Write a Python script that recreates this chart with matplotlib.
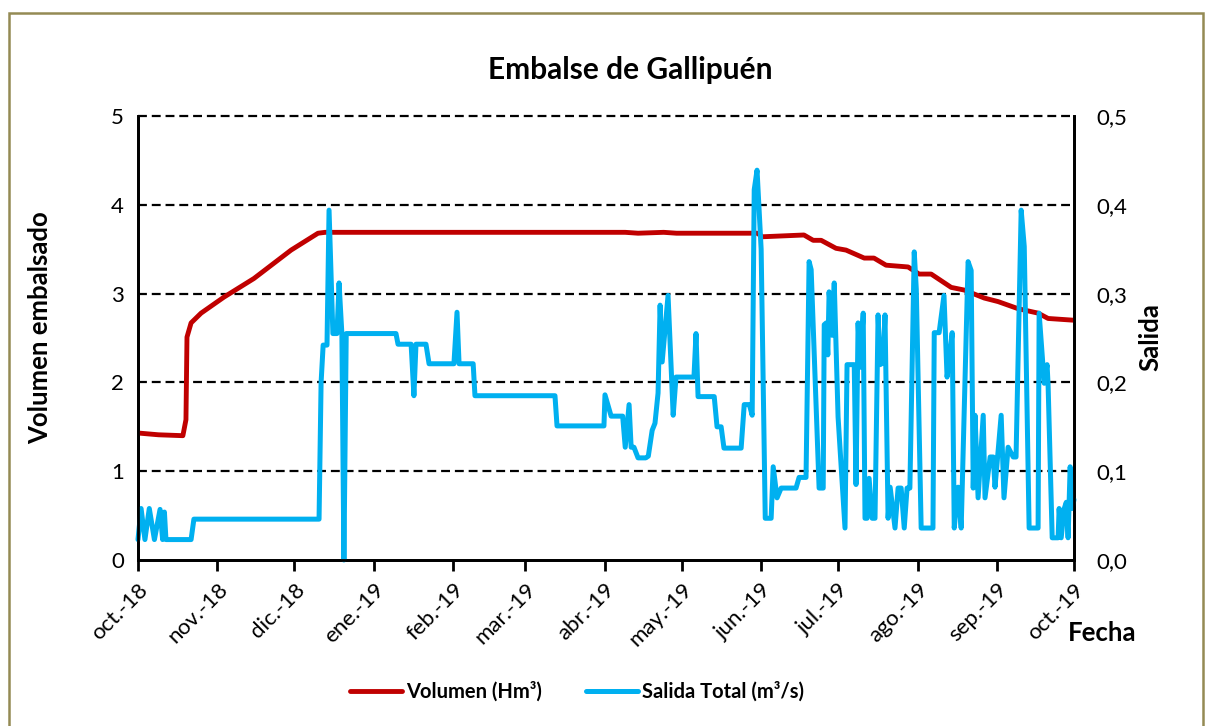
import numpy as np
import pandas as pd
import matplotlib
matplotlib.use('Agg')
import matplotlib.pyplot as plt
from matplotlib.patches import Rectangle

# dias contados desde el 1-oct-2018
vol_dia = [0, 8, 17.5, 18.7, 19.1, 20.7, 24.6, 33.5, 45.2, 59.7, 70.2, 73, 130, 190, 195, 205,
           210, 241.5, 243.5, 259.7, 263.3, 266.4, 272.2, 276.1, 283.2, 287, 291.7, 300.3,
           304.6, 309.3, 317.1, 322.2, 330, 335.4, 343.2, 351, 354.9, 365]
vol_val = [1.43, 1.41, 1.40, 1.58, 2.51, 2.67, 2.78, 2.96, 3.17, 3.49, 3.68, 3.69, 3.69, 3.69, 3.68, 3.69,
           3.68, 3.68, 3.64, 3.66, 3.60, 3.60, 3.51, 3.49, 3.40, 3.40, 3.32, 3.30,
           3.22, 3.22, 3.07, 3.04, 2.95, 2.91, 2.83, 2.78, 2.72, 2.70]

sal_dia = [0, 1.2, 2.7, 4.4, 6.4, 8.6, 9.6, 10.3, 10.9, 20.7, 21.8, 70.6, 71.4, 72.2, 73.7,
           74.5, 76.0, 77.6, 78.4, 79.5, 80.3, 81.2, 100.6, 101.4, 106.5, 107.6, 108.4, 112.3,
           113.5, 123.2, 124.4, 125.2, 130.7, 131.4, 162.6, 163.4, 181.7, 182.1, 184.5, 189.0,
           190.0, 191.5, 192.3, 193.4, 195.0, 198.0, 199.0, 200.5, 201.6, 202.8, 203.6, 204.4,
           206.7, 208.7, 209.8, 216.8, 217.6, 218.4, 224.7, 225.8, 227.4, 228.5, 235.2, 236.4,
           238.4, 239.5, 240.3, 241.4, 243.0, 244.6, 246.9, 247.7, 249.2, 250.8, 256.6, 257.8,
           260.5, 261.7, 262.5, 265.6, 267.2, 267.6, 268.4, 269.0, 269.5, 270.7, 271.5, 273.0,
           275.7, 276.5, 279.3, 280.0, 280.8, 281.6, 282.8, 283.5, 284.3, 285.1, 286.3, 287.4,
           288.6, 289.4, 290.5, 291.3, 292.5, 293.3, 295.2, 296.4, 297.6, 298.8, 299.9, 301.0,
           302.7, 303.5, 305.4, 310.0, 310.5, 312.4, 314.3, 315.5, 316.0, 317.5, 318.3, 319.8,
           321.0, 323.7, 324.9, 325.7, 326.4, 327.6, 329.6, 330.3, 332.3, 333.5, 334.2, 336.6,
           337.7, 339.3, 341.3, 342.4, 344.4, 345.6, 347.5, 351.0, 351.4, 353.4, 354.5, 354.9,
           356.5, 358.8, 359.2, 360.0, 361.2, 362.0, 362.7, 363.5, 364.3, 365.0]
sal_val = [0.023, 0.058, 0.023, 0.058, 0.023, 0.057, 0.023, 0.054, 0.023, 0.023, 0.046, 0.046, 0.200, 0.242, 0.242,
           0.394, 0.255, 0.255, 0.312, 0.255, 0.000, 0.255, 0.255, 0.243, 0.243, 0.185, 0.243, 0.243,
           0.221, 0.221, 0.279, 0.221, 0.221, 0.185, 0.185, 0.151, 0.151, 0.186, 0.162, 0.162,
           0.127, 0.175, 0.127, 0.127, 0.115, 0.115, 0.117, 0.146, 0.154, 0.188, 0.287, 0.223,
           0.298, 0.163, 0.206, 0.206, 0.255, 0.184, 0.184, 0.150, 0.150, 0.126, 0.126, 0.175,
           0.175, 0.163, 0.417, 0.439, 0.350, 0.047, 0.047, 0.105, 0.070, 0.081, 0.081, 0.093,
           0.093, 0.336, 0.327, 0.081, 0.081, 0.265, 0.267, 0.231, 0.302, 0.253, 0.312, 0.161,
           0.036, 0.220, 0.220, 0.085, 0.267, 0.217, 0.278, 0.047, 0.047, 0.092, 0.047, 0.047,
           0.276, 0.220, 0.222, 0.276, 0.047, 0.082, 0.036, 0.081, 0.081, 0.036, 0.081, 0.081,
           0.347, 0.305, 0.036, 0.036, 0.256, 0.256, 0.298, 0.206, 0.217, 0.256, 0.036, 0.082,
           0.036, 0.336, 0.326, 0.081, 0.163, 0.070, 0.163, 0.070, 0.116, 0.116, 0.082, 0.163,
           0.070, 0.127, 0.116, 0.116, 0.394, 0.353, 0.036, 0.036, 0.278, 0.199, 0.220, 0.197,
           0.025, 0.025, 0.058, 0.025, 0.058, 0.065, 0.025, 0.105, 0.058, 0.068]

meses = ['oct.-18', 'nov.-18', 'dic.-18', 'ene.-19', 'feb.-19', 'mar.-19', 'abr.-19',
         'may.-19', 'jun.-19', 'jul.-19', 'ago.-19', 'sep.-19', 'oct.-19']

plt.rcParams['font.family'] = ['Lato', 'DejaVu Sans']

W, H = 1208, 726
fig = plt.figure(figsize=(W / 100, H / 100), dpi=100)
ax = fig.add_axes([138 / W, 1 - 560 / H, (1074 - 138) / W, (560 - 116) / H])
ax2 = ax.twinx()

inicio = pd.Timestamp('2018-10-01')
vol_t = inicio + pd.to_timedelta(vol_dia, unit='D')
sal_t = inicio + pd.to_timedelta(sal_dia, unit='D')

for v in range(1, 6):
    ax.axhline(v, color='black', lw=1.6, ls=(0, (4, 2.2)), zorder=1, clip_on=False)

ax.plot(vol_t, vol_val, color='#C00000', lw=3.5, solid_joinstyle='round',
        solid_capstyle='round', zorder=3, label='Volumen (Hm³)')
ax2.plot(sal_t, sal_val, color='#00B0F0', lw=3.6, solid_joinstyle='round',
         solid_capstyle='round', clip_on=False, label='Salida Total (m³/s)')

ax.set_ylim(0, 5)
ax2.set_ylim(0, 0.5)
ax.set_xlim(inicio, pd.Timestamp('2019-10-01'))

ax.set_xticks(pd.date_range('2018-10-01', '2019-10-01', freq='MS'))
ax.set_xticklabels(meses, rotation=45, ha='right', rotation_mode='anchor')
ax.set_yticks(range(6))
ax.set_yticklabels([str(i) for i in range(6)])
ax2.set_yticks(np.arange(0, 0.51, 0.1))
ax2.set_yticklabels([f'{v:.1f}'.replace('.', ',') for v in np.arange(0, 0.51, 0.1)])

ax.tick_params(axis='x', length=8, width=2, pad=6, labelsize=16)
ax.tick_params(axis='y', length=0, pad=10, labelsize=16)
ax2.tick_params(axis='y', length=0, pad=16, labelsize=16)

for a in (ax, ax2):
    a.spines['top'].set_visible(False)
    for s in ('left', 'right', 'bottom'):
        a.spines[s].set_linewidth(2)
        a.spines[s].set_color('black')

fig.text(630 / W, 1 - 70 / H, 'Embalse de Gallipuén', ha='center', va='center',
         fontsize=21.5, fontweight='bold')
fig.text(40 / W, 1 - 328 / H, 'Volumen embalsado', ha='center', va='center',
         rotation=90, fontsize=18.5, fontweight='bold')
fig.text(1150 / W, 1 - 337 / H, 'Salida', ha='center', va='center',
         rotation=90, fontsize=18.5, fontweight='bold')
fig.text(1102 / W, 1 - 633 / H, 'Fecha', ha='center', va='center',
         fontsize=18.5, fontweight='bold')

h1, l1 = ax.get_legend_handles_labels()
h2, l2 = ax2.get_legend_handles_labels()
leg = fig.legend(h1 + h2, l1 + l2, loc='center', bbox_to_anchor=(577 / W, 1 - 692 / H),
                 ncol=2, frameon=False, handlelength=2.6, handletextpad=0.2,
                 columnspacing=2.2, prop={'size': 14.5, 'weight': 'bold'})

fig.patches.append(Rectangle((9 / W, -0.1), (1203 - 9) / W, 1 - 12.5 / H + 0.1,
                             transform=fig.transFigure, fill=False,
                             edgecolor='#948A54', lw=1.8))

fig.savefig('out.png', dpi=100)
